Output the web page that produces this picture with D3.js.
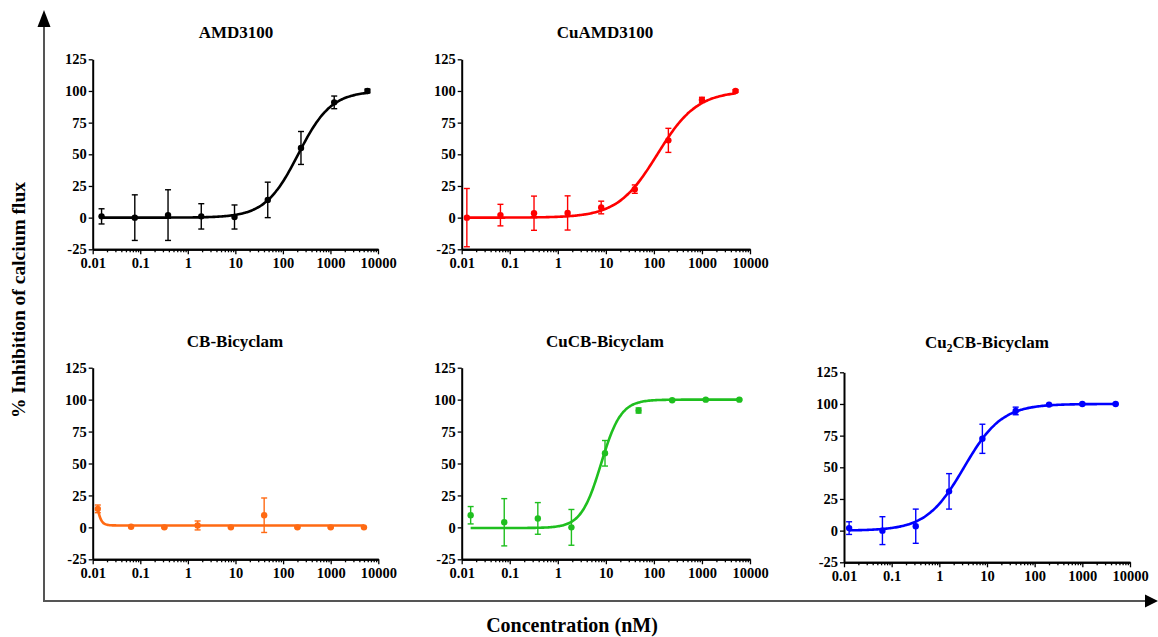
<!DOCTYPE html>
<html>
<head>
<meta charset="utf-8">
<script src="https://cdn.jsdelivr.net/npm/d3@7"></script>
<style>
  body { margin: 0; background: #fff; }
  svg { display: block; }
</style>
</head>
<body>
<svg width="1158" height="637"></svg>
<script>
const width = 1158;
const height = 637;

//--------------------data--------------------
// concentrations (nM), 5-fold dilution series
const concA = [0.01536, 0.0768, 0.384, 1.92, 9.6, 48, 240, 1200, 6000];
const concB = [0.0128, 0.064, 0.32, 1.6, 8, 40, 200, 1000, 5000];

const titles = ["AMD3100", "CuAMD3100", "CB-Bicyclam", "CuCB-Bicyclam", "Cu2CB-Bicyclam"];
const colors = ["#000000", "#ff0000", "#ff6a13", "#1fbf1f", "#0000ff"];

const amdMean = [1, 0, 2, 1, 0.5, 14, 55, 91, 100];
const amdErr = [6, 18, 20, 10, 9.5, 14, 13, 5, 1.5];
const cuAmdMean = [0, 2, 3.5, 3.7, 8, 22.5, 61, 93, 100];
const cuAmdErr = [23, 8.5, 13.5, 13.5, 5, 3.3, 9.5, 2, 1];
const cbMean = [14.5, 0.5, 0, 1.5, 0, 9.5, 0, 0, 0];
const cbErr = [3, 0.5, 0.5, 3.5, 0.5, 13.5, 0.5, 0.5, 0.5];
const cuCbMean = [9.5, 4, 7, 0, 58, 91.5, 99.5, 100, 100];
const cuCbErr = [6.8, 18.5, 12.4, 14, 10, 2, 0.5, 0.5, 0.5];
const cu2CbMean = [2, 0, 3.5, 31, 72.5, 94.5, 99.5, 100, 100];
const cu2CbErr = [5, 11, 13.5, 14, 11.5, 3, 0.5, 0.5, 0.5];

// four parameter logistic fit for each compound
const fitBottom = [0, 0, 1.5, -0.5, 0];
const fitTop = [100, 100, 100, 100, 100];
const fitLogEC50 = [2.322, 2.072, -2.004, 0.9, 0.519];
const fitHill = [1.25, 1.05, -7.5, 2.1, 1.1];

const yTicks = [-25, 0, 25, 50, 75, 100, 125];
const yTickLabels = ["-25", "0", "25", "50", "75", "100", "125"];
const xTicks = [0.01, 0.1, 1, 10, 100, 1000, 10000];
const xTickLabels = ["0.01", "0.1", "1", "10", "100", "1000", "10000"];

//--------------------layout--------------------
const panels = [
    { x0: 92.7, x1: 378, yTop: 59.3, yBot: 249.3, tx: 236, ty: 38, conc: concA, mean: amdMean, err: amdErr },
    { x0: 461.7, x1: 750, yTop: 59.3, yBot: 249.3, tx: 605, ty: 38, conc: concB, mean: cuAmdMean, err: cuAmdErr },
    { x0: 92.7, x1: 378.3, yTop: 367.7, yBot: 559.3, tx: 235, ty: 347, conc: concB, mean: cbMean, err: cbErr },
    { x0: 461.7, x1: 750, yTop: 367.7, yBot: 559.3, tx: 605, ty: 347, conc: concA, mean: cuCbMean, err: cuCbErr },
    { x0: 844, x1: 1130, yTop: 372.3, yBot: 562.3, tx: 987, ty: 348, conc: concB, mean: cu2CbMean, err: cu2CbErr }
];

const font = "'Liberation Serif', 'Times New Roman', serif";
const svg = d3.select("svg");

//--------------------outer axes--------------------
svg.append("line")
    .attr("x1", 44).attr("y1", 24)
    .attr("x2", 44).attr("y2", 601)
    .attr("stroke", "#555").attr("stroke-width", 2);
svg.append("line")
    .attr("x1", 43).attr("y1", 601)
    .attr("x2", 1148).attr("y2", 601)
    .attr("stroke", "#555").attr("stroke-width", 2);
svg.append("path")
    .attr("d", "M44,10 L50.5,27 L37.5,27 Z")
    .attr("fill", "#000");
svg.append("path")
    .attr("d", "M1158,601 L1145,594.5 L1145,607.5 Z")
    .attr("fill", "#000");

svg.append("text")
    .attr("transform", "translate(25,300) rotate(-90)")
    .attr("text-anchor", "middle")
    .attr("font-family", font)
    .attr("font-weight", "bold")
    .attr("font-size", 19.5)
    .text("% Inhibition of calcium flux");

svg.append("text")
    .attr("x", 572)
    .attr("y", 632)
    .attr("text-anchor", "middle")
    .attr("font-family", font)
    .attr("font-weight", "bold")
    .attr("font-size", 20)
    .text("Concentration (nM)");

//--------------------panels--------------------
function fourPL(x, i) {
    return fitBottom[i] + (fitTop[i] - fitBottom[i]) /
        (1 + Math.pow(10, (fitLogEC50[i] - Math.log10(x)) * fitHill[i]));
}

// minor tick values 2..9 in each decade
const minorTicks = [];
for (let d = -2; d < 4; d++) {
    for (let m = 2; m <= 9; m++) minorTicks.push(m * Math.pow(10, d));
}

panels.forEach((p, i) => {
    const color = colors[i];
    const g = svg.append("g");

    const scaleX = d3.scaleLog().domain([0.01, 10000]).range([p.x0, p.x1]);
    const scaleY = d3.scaleLinear().domain([-25, 125]).range([p.yBot, p.yTop]);

    // title
    const title = g.append("text")
        .attr("x", p.tx)
        .attr("y", p.ty)
        .attr("text-anchor", "middle")
        .attr("font-family", font)
        .attr("font-weight", "bold")
        .attr("font-size", 17);
    if (titles[i] == "Cu2CB-Bicyclam") {
        title.append("tspan").text("Cu");
        title.append("tspan").attr("font-size", 11.5).attr("dy", 4).text("2");
        title.append("tspan").attr("dy", -4).text("CB-Bicyclam");
    } else {
        title.text(titles[i]);
    }

    // y axis
    g.append("g")
        .attr("transform", "translate(" + p.x0 + ",0)")
        .call(d3.axisLeft(scaleY).tickValues(yTicks).tickSize(4).tickSizeOuter(0).tickPadding(2)
            .tickFormat((d, k) => yTickLabels[k]));

    // x axis, minor then major
    g.append("g")
        .attr("transform", "translate(0," + p.yBot + ")")
        .call(d3.axisBottom(scaleX).tickValues(minorTicks).tickSize(3).tickSizeOuter(0).tickFormat(""));
    g.append("g")
        .attr("transform", "translate(0," + p.yBot + ")")
        .call(d3.axisBottom(scaleX).tickValues(xTicks).tickSize(5).tickSizeOuter(0)
            .tickFormat((d, k) => xTickLabels[k]).tickPadding(3));

    g.selectAll(".domain").attr("stroke", "#000").attr("stroke-width", 2);
    g.selectAll(".tick line").attr("stroke", "#000").attr("stroke-width", 1.3);
    g.selectAll(".tick text")
        .style("font-family", font)
        .style("font-weight", "bold")
        .style("font-size", "14.5px")
        .attr("fill", "#000");

    // fitted curve
    const lo = Math.log10(d3.min(p.conc));
    const hi = Math.log10(d3.max(p.conc));
    const curveX = d3.range(0, 201).map(k => Math.pow(10, lo + (hi - lo) * k / 200));
    g.append("path")
        .datum(curveX)
        .attr("d", d3.line()
            .x(d => scaleX(d))
            .y(d => scaleY(fourPL(d, i)))
            .curve(d3.curveBasis))
        .attr("fill", "none")
        .attr("stroke", color)
        .attr("stroke-width", 2.6);

    // error bars
    const bars = g.append("g")
        .selectAll("g")
        .data(p.conc.map((c, k) => ({ c: c, m: p.mean[k], e: p.err[k] })))
        .enter()
        .append("g")
        .attr("stroke", color)
        .attr("stroke-width", 1.4);
    bars.append("line")
        .attr("x1", d => scaleX(d.c)).attr("x2", d => scaleX(d.c))
        .attr("y1", d => scaleY(d.m - d.e)).attr("y2", d => scaleY(d.m + d.e));
    bars.append("line")
        .attr("x1", d => scaleX(d.c) - 3).attr("x2", d => scaleX(d.c) + 3)
        .attr("y1", d => scaleY(d.m + d.e)).attr("y2", d => scaleY(d.m + d.e));
    bars.append("line")
        .attr("x1", d => scaleX(d.c) - 3).attr("x2", d => scaleX(d.c) + 3)
        .attr("y1", d => scaleY(d.m - d.e)).attr("y2", d => scaleY(d.m - d.e));

    // points
    g.append("g")
        .selectAll("circle")
        .data(p.conc)
        .enter()
        .append("circle")
        .attr("cx", d => scaleX(d))
        .attr("cy", (d, k) => scaleY(p.mean[k]))
        .attr("r", 3.2)
        .attr("fill", color);
});
</script>
</body>
</html>
